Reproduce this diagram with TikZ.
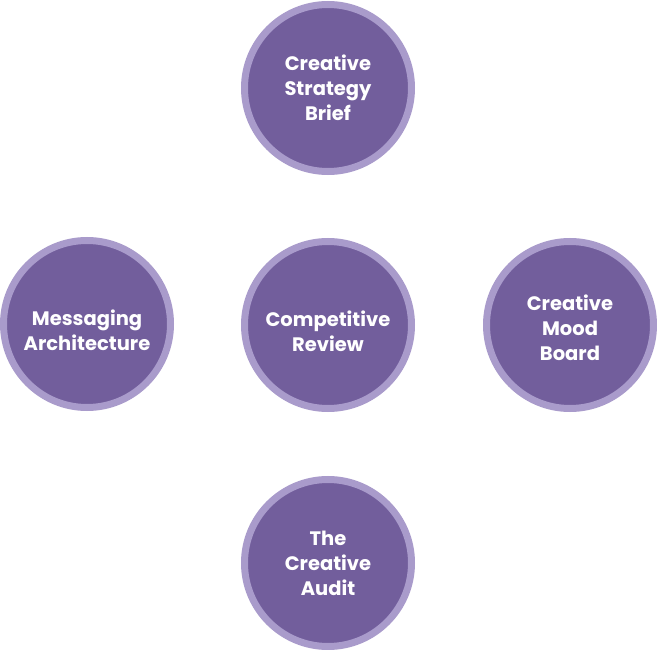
\documentclass[tikz,border=0pt]{standalone}
\usepackage{fontspec}
\setmainfont{Poppins}
\usepackage{tikz}
\definecolor{cpurple}{RGB}{114,94,156}
\definecolor{cring}{RGB}{169,155,203}
\newcommand{\vpad}[1]{\rule{0pt}{#1}}

\begin{document}
\begin{tikzpicture}[
  x=1pt,y=-1pt,
  font=\fontsize{19.5}{25}\selectfont\bfseries,
  disc/.style={circle,draw=cring,line width=7pt,fill=cpurple,text=white,
               align=center,inner sep=0pt,minimum size=167pt},
  ]
  \useasboundingbox (0,0) rectangle (657,650);
  \node[disc] (brief)  at (328, 88) {Creative\\Strategy\\Brief};
  \node[disc] (msg)    at (87, 324) {\vpad{28pt}Messaging\\Architecture};
  \node[disc] (review) at (328,325) {\vpad{28pt}Competitive\\Review};
  \node[disc] (mood)   at (570,325) {\vpad{22pt}Creative\\Mood\\Board};
  \node[disc] (audit)  at (328,563) {The\\Creative\\Audit};
\end{tikzpicture}
\end{document}
